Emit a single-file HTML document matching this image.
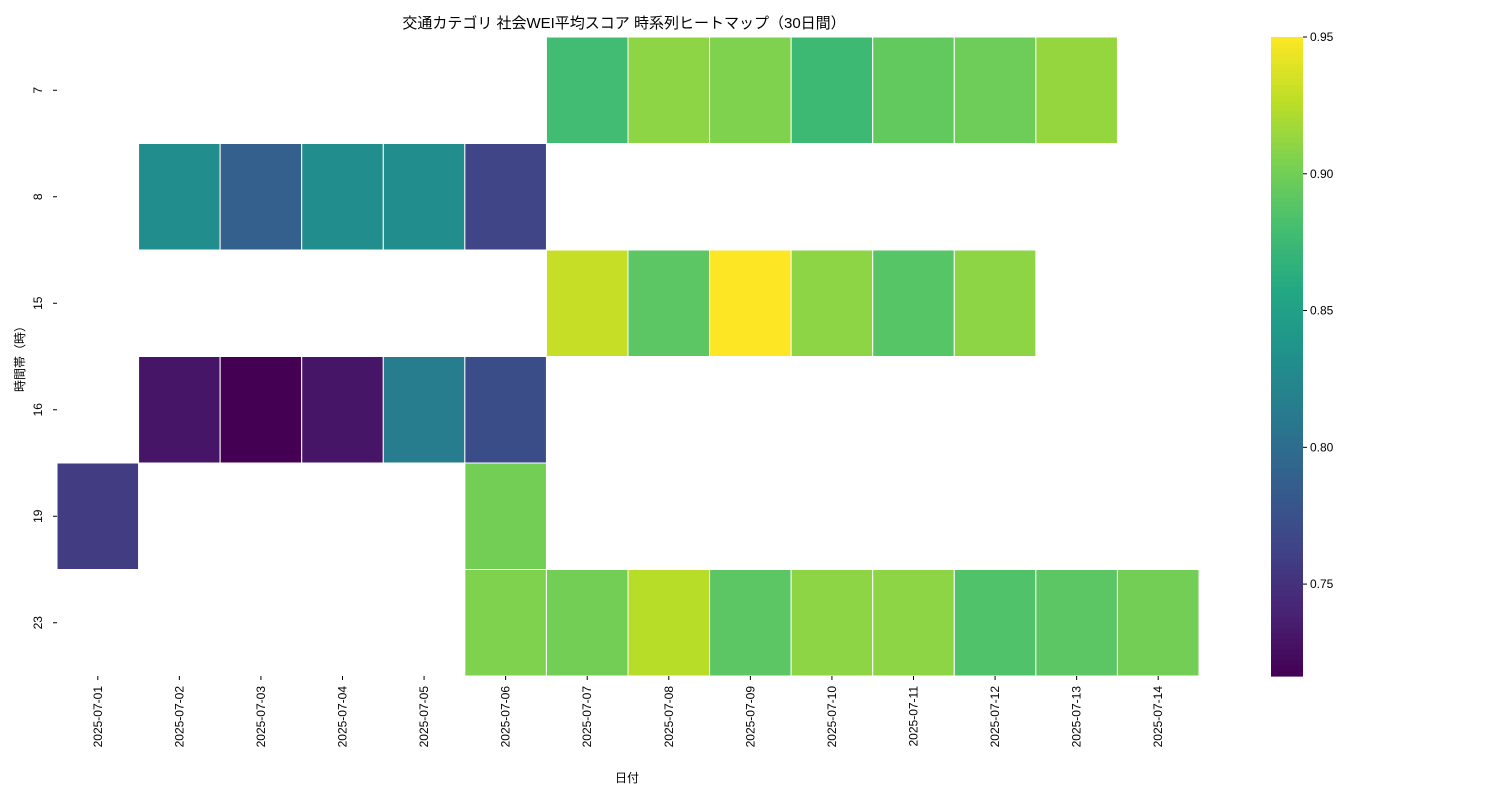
<!DOCTYPE html>
<html><head><meta charset="utf-8"><style>
body{margin:0;background:#fff;}
svg{font-family:"Liberation Sans","Noto Sans CJK JP",sans-serif;}
</style></head><body>
<svg id="c" width="1500" height="800" xmlns="http://www.w3.org/2000/svg">
<text x="624" y="28" font-size="15" text-anchor="middle">交通カテゴリ 社会WEI平均スコア 時系列ヒートマップ（30日間）</text>
<text x="627" y="782" font-size="12" text-anchor="middle">日付</text>
<text transform="translate(24,356) rotate(-90)" font-size="12" text-anchor="middle">時間帯（時）</text>
<g id="cells"></g><g id="xt"></g><g id="yt"></g><g id="cb"></g>
</svg>
<script>
const dates=["2025-07-01","2025-07-02","2025-07-03","2025-07-04","2025-07-05","2025-07-06","2025-07-07","2025-07-08","2025-07-09","2025-07-10","2025-07-11","2025-07-12","2025-07-13","2025-07-14"];
const hours=["7","8","15","16","19","23"];
const row7=[null,null,null,null,null,null,0.878,0.91,0.905,0.875,0.893,0.898,0.913,null];
const row8=[null,0.83,0.788,0.83,0.83,0.765,null,null,null,null,null,null,null,null];
const row15=[null,null,null,null,null,null,0.93,0.89,0.95,0.91,0.888,0.91,null,null];
const row16=[null,0.73,0.716,0.73,0.815,0.772,null,null,null,null,null,null,null,null];
const row19=[0.758,null,null,null,null,0.9,null,null,null,null,null,null,null,null];
const row23=[null,null,null,null,null,0.905,0.9,0.925,0.89,0.91,0.91,0.885,0.89,0.9];
const cbTicks=[0.75,0.80,0.85,0.90,0.95];
const vmin=0.7164,vmax=0.95;
const rows=[row7,row8,row15,row16,row19,row23];
const X0=57,X1=1199,Y0=37,Y1=676;
const cw=(X1-X0)/dates.length,rh=(Y1-Y0)/hours.length;
const xs=i=>X0+i*cw, ys=j=>Y0+j*rh;
const stops=[[68,1,84],[72,35,116],[64,67,135],[52,94,141],[41,120,142],[32,144,140],[34,167,132],[68,190,112],[121,209,81],[189,222,38],[253,231,37]];
function viridis(v){let t=Math.max(0,Math.min(1,(v-vmin)/(vmax-vmin)))*(stops.length-1);let i=Math.min(Math.floor(t),stops.length-2),f=t-i;const a=stops[i],b=stops[i+1];return `rgb(${a.map((c,k)=>Math.round(c+(b[k]-c)*f)).join(',')})`;}
const NS="http://www.w3.org/2000/svg";
function mk(tag,attrs,parent){const e=document.createElementNS(NS,tag);for(const k in attrs)e.setAttribute(k,attrs[k]);parent.appendChild(e);return e;}
const cells=document.getElementById('cells');
rows.forEach((r,j)=>r.forEach((v,i)=>{if(v==null)return;
const e=mk('rect',{x:xs(i),y:ys(j),width:cw,height:rh,fill:viridis(v),stroke:'#fff','stroke-width':1},cells);

}));
const xt=document.getElementById('xt');
dates.forEach((d,i)=>{const cx=xs(i)+cw/2;
mk('line',{x1:cx,x2:cx,y1:Y1,y2:Y1+4,stroke:'#000'},xt);
const t=mk('text',{transform:`translate(${cx+4},${Y1+10}) rotate(-90)`,'font-size':12,'text-anchor':'end'},xt);t.textContent=d;

});
const yt=document.getElementById('yt');
hours.forEach((h,j)=>{const cy=ys(j)+rh/2;
mk('line',{x1:X0-4,x2:X0,y1:cy,y2:cy,stroke:'#000'},yt);
const t=mk('text',{transform:`translate(${X0-15},${cy}) rotate(-90)`,'font-size':12,'text-anchor':'middle'},yt);t.textContent=h;

});
const cb=document.getElementById('cb');
const N=120,bh=(Y1-Y0)/N;
for(let k=0;k<N;k++){const v=vmax-(k+0.5)/N*(vmax-vmin);mk('rect',{x:1271,y:Y0+k*bh,width:32,height:bh+0.6,fill:viridis(v)},cb);}
cbTicks.forEach(v=>{const y=Y1-(v-vmin)/(vmax-vmin)*(Y1-Y0);
mk('line',{x1:1303,x2:1307,y1:y,y2:y,stroke:'#000'},cb);
const t=mk('text',{x:1310,y:y+4,'font-size':12},cb);t.textContent=v.toFixed(2);

});
</script>
</body></html>
